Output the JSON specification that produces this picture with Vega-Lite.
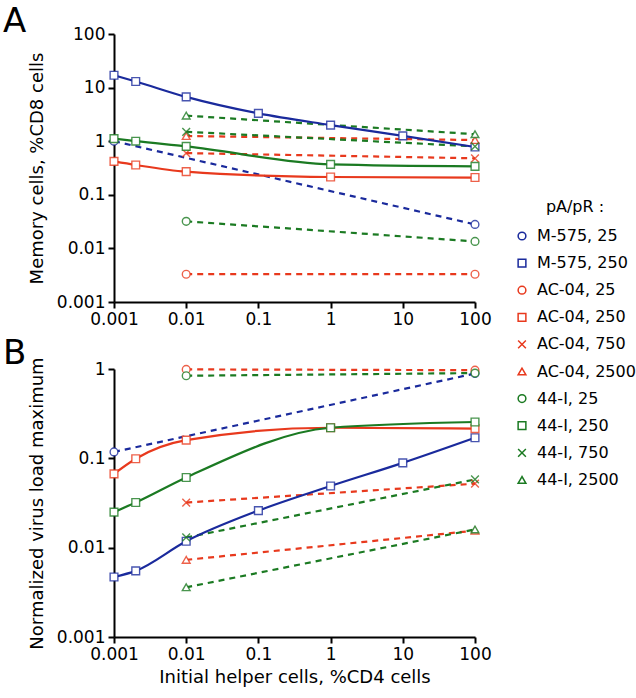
{
  "$schema": "https://vega.github.io/schema/vega-lite/v6.json",
  "background": "white",
  "padding": {"left": 3, "top": 5, "right": 5, "bottom": 5},
  "bounds": "flush",
  "spacing": 67,
  "datasets": {
    "d": [
      {"panel": "A", "series": "M-575, 25", "x": 0.001, "y": 1.0},
      {"panel": "A", "series": "M-575, 25", "x": 100, "y": 0.028},
      {"panel": "A", "series": "M-575, 250", "x": 0.001, "y": 17},
      {"panel": "A", "series": "M-575, 250", "x": 0.002, "y": 13},
      {"panel": "A", "series": "M-575, 250", "x": 0.01, "y": 6.7},
      {"panel": "A", "series": "M-575, 250", "x": 0.1, "y": 3.3},
      {"panel": "A", "series": "M-575, 250", "x": 1, "y": 2.0},
      {"panel": "A", "series": "M-575, 250", "x": 10, "y": 1.26},
      {"panel": "A", "series": "M-575, 250", "x": 100, "y": 0.78},
      {"panel": "A", "series": "AC-04, 25", "x": 0.01, "y": 0.0033},
      {"panel": "A", "series": "AC-04, 25", "x": 100, "y": 0.0033},
      {"panel": "A", "series": "AC-04, 250", "x": 0.001, "y": 0.42},
      {"panel": "A", "series": "AC-04, 250", "x": 0.002, "y": 0.36},
      {"panel": "A", "series": "AC-04, 250", "x": 0.01, "y": 0.27},
      {"panel": "A", "series": "AC-04, 250", "x": 1, "y": 0.215},
      {"panel": "A", "series": "AC-04, 250", "x": 100, "y": 0.21},
      {"panel": "A", "series": "AC-04, 750", "x": 0.01, "y": 0.6},
      {"panel": "A", "series": "AC-04, 750", "x": 100, "y": 0.48},
      {"panel": "A", "series": "AC-04, 2500", "x": 0.01, "y": 1.25},
      {"panel": "A", "series": "AC-04, 2500", "x": 100, "y": 1.05},
      {"panel": "A", "series": "44-I, 25", "x": 0.01, "y": 0.032},
      {"panel": "A", "series": "44-I, 25", "x": 100, "y": 0.0135},
      {"panel": "A", "series": "44-I, 250", "x": 0.001, "y": 1.12},
      {"panel": "A", "series": "44-I, 250", "x": 0.002, "y": 1.0},
      {"panel": "A", "series": "44-I, 250", "x": 0.01, "y": 0.8},
      {"panel": "A", "series": "44-I, 250", "x": 1, "y": 0.37},
      {"panel": "A", "series": "44-I, 250", "x": 100, "y": 0.34},
      {"panel": "A", "series": "44-I, 750", "x": 0.01, "y": 1.5},
      {"panel": "A", "series": "44-I, 750", "x": 100, "y": 0.8},
      {"panel": "A", "series": "44-I, 2500", "x": 0.01, "y": 3.0},
      {"panel": "A", "series": "44-I, 2500", "x": 100, "y": 1.35},

      {"panel": "B", "series": "M-575, 25", "x": 0.001, "y": 0.118},
      {"panel": "B", "series": "M-575, 25", "x": 100, "y": 0.89},
      {"panel": "B", "series": "M-575, 250", "x": 0.001, "y": 0.0047},
      {"panel": "B", "series": "M-575, 250", "x": 0.002, "y": 0.0055},
      {"panel": "B", "series": "M-575, 250", "x": 0.01, "y": 0.0118},
      {"panel": "B", "series": "M-575, 250", "x": 0.1, "y": 0.026},
      {"panel": "B", "series": "M-575, 250", "x": 1, "y": 0.049},
      {"panel": "B", "series": "M-575, 250", "x": 10, "y": 0.089},
      {"panel": "B", "series": "M-575, 250", "x": 100, "y": 0.17},
      {"panel": "B", "series": "AC-04, 25", "x": 0.01, "y": 0.99},
      {"panel": "B", "series": "AC-04, 25", "x": 100, "y": 0.97},
      {"panel": "B", "series": "AC-04, 250", "x": 0.001, "y": 0.067},
      {"panel": "B", "series": "AC-04, 250", "x": 0.002, "y": 0.099},
      {"panel": "B", "series": "AC-04, 250", "x": 0.01, "y": 0.16},
      {"panel": "B", "series": "AC-04, 250", "x": 1, "y": 0.22},
      {"panel": "B", "series": "AC-04, 250", "x": 100, "y": 0.215},
      {"panel": "B", "series": "AC-04, 750", "x": 0.01, "y": 0.032},
      {"panel": "B", "series": "AC-04, 750", "x": 100, "y": 0.052},
      {"panel": "B", "series": "AC-04, 2500", "x": 0.01, "y": 0.0073},
      {"panel": "B", "series": "AC-04, 2500", "x": 100, "y": 0.0155},
      {"panel": "B", "series": "44-I, 25", "x": 0.01, "y": 0.84},
      {"panel": "B", "series": "44-I, 25", "x": 100, "y": 0.9},
      {"panel": "B", "series": "44-I, 250", "x": 0.001, "y": 0.025},
      {"panel": "B", "series": "44-I, 250", "x": 0.002, "y": 0.032},
      {"panel": "B", "series": "44-I, 250", "x": 0.01, "y": 0.061},
      {"panel": "B", "series": "44-I, 250", "x": 1, "y": 0.22},
      {"panel": "B", "series": "44-I, 250", "x": 100, "y": 0.255},
      {"panel": "B", "series": "44-I, 750", "x": 0.01, "y": 0.013},
      {"panel": "B", "series": "44-I, 750", "x": 100, "y": 0.058},
      {"panel": "B", "series": "44-I, 2500", "x": 0.01, "y": 0.0036},
      {"panel": "B", "series": "44-I, 2500", "x": 100, "y": 0.016}
    ]
  },
  "config": {
    "font": "DejaVu Sans",
    "view": {"stroke": null},
    "axis": {
      "grid": false,
      "domainColor": "black",
      "domainWidth": 2,
      "tickColor": "black",
      "tickWidth": 2,
      "tickSize": 6,
      "labelFont": "DejaVu Sans",
      "labelFontSize": 17,
      "labelColor": "black",
      "labelPadding": 3,
      "labelFlush": false,
      "titleFont": "DejaVu Sans",
      "titleFontSize": 18,
      "titleFontWeight": "normal",
      "titleColor": "black"
    },
    "legend": {
      "labelFont": "DejaVu Sans",
      "labelFontSize": 16,
      "labelColor": "black",
      "titleFont": "DejaVu Sans",
      "titleFontSize": 16,
      "titleFontWeight": "normal",
      "titleColor": "black"
    },
    "title": {"font": "DejaVu Sans", "fontWeight": "normal", "fontSize": 34, "color": "black"}
  },
  "resolve": {
    "scale": {"x": "independent", "y": "independent", "color": "independent", "shape": "independent"},
    "legend": {"color": "independent", "shape": "independent"}
  },
  "vconcat": [
    {
      "width": 361,
      "height": 268,
      "title": {"text": "A", "anchor": "start", "frame": "group", "dx": -111, "dy": 8, "offset": -6},
      "data": {"name": "d"},
      "transform": [{"filter": "datum.panel === 'A'"}],
      "encoding": {
        "x": {"field": "x", "type": "quantitative", "scale": {"type": "log", "domain": [0.001, 100], "nice": false},
              "axis": {"values": [0.001, 0.01, 0.1, 1, 10, 100], "format": "~g", "title": null}},
        "y": {"field": "y", "type": "quantitative", "scale": {"type": "log", "domain": [0.001, 100], "nice": false},
              "axis": {"values": [0.001, 0.01, 0.1, 1, 10, 100], "format": "~g", "title": "Memory cells, %CD8 cells", "titlePadding": 10}},
        "color": {"field": "series", "type": "nominal",
          "scale": {"domain": ["M-575, 25", "M-575, 250", "AC-04, 25", "AC-04, 250", "AC-04, 750", "AC-04, 2500", "44-I, 25", "44-I, 250", "44-I, 750", "44-I, 2500"],
                    "range": ["#1a2a9c", "#1a2a9c", "#e8391d", "#e8391d", "#e8391d", "#e8391d", "#1b7a22", "#1b7a22", "#1b7a22", "#1b7a22"]},
          "legend": {"title": "pA/pR :", "orient": "none", "legendX": 400, "legendY": 165, "rowPadding": 11.1, "titlePadding": 13, "titleAnchor": "middle", "symbolFillColor": "white", "symbolSize": 60, "symbolStrokeWidth": 1.5, "labelOffset": 7}}
      },
      "layer": [
        {
          "transform": [{"filter": "indexof(['M-575, 250', 'AC-04, 250', '44-I, 250'], datum.series) < 0"}],
          "mark": {"type": "line", "interpolate": "monotone", "strokeWidth": 2.2, "strokeDash": [6, 5]},
          "encoding": {"detail": {"field": "series"}}
        },
        {
          "transform": [{"filter": "indexof(['M-575, 250', 'AC-04, 250', '44-I, 250'], datum.series) >= 0"}],
          "mark": {"type": "line", "interpolate": "monotone", "strokeWidth": 2.2},
          "encoding": {"detail": {"field": "series"}}
        },
        {
          "mark": {"type": "point", "filled": false, "fill": "white", "opacity": 1, "strokeOpacity": 0.8, "size": 60, "strokeWidth": 1.4},
          "encoding": {
            "shape": {"field": "series", "type": "nominal",
              "scale": {"domain": ["M-575, 25", "M-575, 250", "AC-04, 25", "AC-04, 250", "AC-04, 750", "AC-04, 2500", "44-I, 25", "44-I, 250", "44-I, 750", "44-I, 2500"],
                        "range": ["circle", "square", "circle", "square", "M-1,-1L1,1M1,-1L-1,1", "triangle-up", "circle", "square", "M-1,-1L1,1M1,-1L-1,1", "triangle-up"]},
              "legend": {"title": "pA/pR :", "orient": "none", "legendX": 400, "legendY": 165, "rowPadding": 11.1, "titlePadding": 13, "titleAnchor": "middle", "symbolFillColor": "white", "symbolSize": 60, "symbolStrokeWidth": 1.5, "labelOffset": 7}}
          }
        }
      ]
    },
    {
      "width": 361,
      "height": 268,
      "title": {"text": "B", "anchor": "start", "frame": "group", "dx": -111, "dy": 8, "offset": -6},
      "data": {"name": "d"},
      "transform": [{"filter": "datum.panel === 'B'"}],
      "encoding": {
        "x": {"field": "x", "type": "quantitative", "scale": {"type": "log", "domain": [0.001, 100], "nice": false},
              "axis": {"values": [0.001, 0.01, 0.1, 1, 10, 100], "format": "~g", "title": "Initial helper cells, %CD4 cells", "titlePadding": 6}},
        "y": {"field": "y", "type": "quantitative", "scale": {"type": "log", "domain": [0.001, 1], "nice": false},
              "axis": {"values": [0.001, 0.01, 0.1, 1], "format": "~g", "title": "Normalized virus load maximum", "titlePadding": 10}},
        "color": {"field": "series", "type": "nominal",
          "scale": {"domain": ["M-575, 25", "M-575, 250", "AC-04, 25", "AC-04, 250", "AC-04, 750", "AC-04, 2500", "44-I, 25", "44-I, 250", "44-I, 750", "44-I, 2500"],
                    "range": ["#1a2a9c", "#1a2a9c", "#e8391d", "#e8391d", "#e8391d", "#e8391d", "#1b7a22", "#1b7a22", "#1b7a22", "#1b7a22"]},
          "legend": null}
      },
      "layer": [
        {
          "transform": [{"filter": "indexof(['M-575, 250', 'AC-04, 250', '44-I, 250'], datum.series) < 0"}],
          "mark": {"type": "line", "interpolate": "monotone", "strokeWidth": 2.2, "strokeDash": [6, 5]},
          "encoding": {"detail": {"field": "series"}}
        },
        {
          "transform": [{"filter": "indexof(['M-575, 250', 'AC-04, 250', '44-I, 250'], datum.series) >= 0"}],
          "mark": {"type": "line", "interpolate": "monotone", "strokeWidth": 2.2},
          "encoding": {"detail": {"field": "series"}}
        },
        {
          "mark": {"type": "point", "filled": false, "fill": "white", "opacity": 1, "strokeOpacity": 0.8, "size": 60, "strokeWidth": 1.4},
          "encoding": {
            "shape": {"field": "series", "type": "nominal",
              "scale": {"domain": ["M-575, 25", "M-575, 250", "AC-04, 25", "AC-04, 250", "AC-04, 750", "AC-04, 2500", "44-I, 25", "44-I, 250", "44-I, 750", "44-I, 2500"],
                        "range": ["circle", "square", "circle", "square", "M-1,-1L1,1M1,-1L-1,1", "triangle-up", "circle", "square", "M-1,-1L1,1M1,-1L-1,1", "triangle-up"]},
              "legend": null}
          }
        }
      ]
    }
  ]
}
